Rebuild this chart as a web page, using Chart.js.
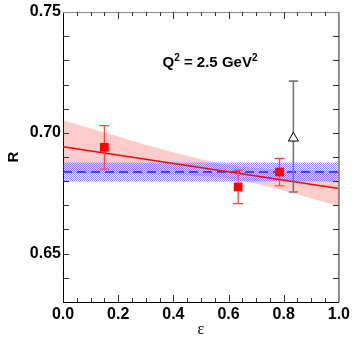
<!DOCTYPE html>
<html>
<head>
<meta charset="utf-8">
<script src="https://cdn.jsdelivr.net/npm/chart.js@4/dist/chart.umd.min.js"></script>
<style>
  html, body { margin: 0; padding: 0; background: #fff; }
</style>
</head>
<body>
<canvas id="chart" width="353" height="344"></canvas>
<script>
  // measured points (red squares)
  const epsPoints = [0.15, 0.635, 0.785];
  const rPoints = [0.694, 0.6776, 0.6838];
  const rLow = [0.685, 0.6707, 0.6781];
  const rHigh = [0.703, 0.6846, 0.6894];

  // open triangle point
  const epsTri = [0.835];
  const rTri = [0.6978];
  const rTriLow = [0.6755];
  const rTriHigh = [0.7214];

  // linear fit and its error band
  const fitEps = [0, 1];
  const fitR = [0.6942, 0.6770];
  const bandEps = [0, 0.1, 0.2, 0.3, 0.4, 0.5, 0.6, 0.7, 0.8, 0.9, 1.0];
  const bandUpper = [0.7052, 0.7018, 0.6985, 0.6951, 0.6920, 0.6891, 0.6868, 0.6855, 0.6848, 0.6846, 0.6844];
  const bandLower = [0.6832, 0.6832, 0.6831, 0.6829, 0.6826, 0.6821, 0.6810, 0.6789, 0.6760, 0.6729, 0.6696];

  // constant fit and its band
  const constEps = [0, 1];
  const constR = [0.6838, 0.6838];
  const constUpper = [0.6877, 0.6877];
  const constLower = [0.6799, 0.6799];

  // tick labels
  const xTickLabels = [0, 0.2, 0.4, 0.6, 0.8, 1.0];
  const yTickLabels = [0.65, 0.70, 0.75];

  const FONT = "'Liberation Sans', Arial, Helvetica, sans-serif";

  const pts = (xs, ys) => xs.map((x, i) => ({ x, y: ys[i] }));

  function makeHatch(ctx) {
    const c = document.createElement('canvas');
    c.width = 2;
    c.height = 2;
    const g = c.getContext('2d');
    g.fillStyle = 'rgba(70, 70, 255, 0.6)';
    g.fillRect(0, 0, 1, 1);
    g.fillRect(1, 1, 1, 1);
    return ctx.createPattern(c, 'repeat');
  }

  const errorInfo = {
    squares: { low: rLow, high: rHigh, color: '#ff4444', width: 1.2, cap: 5 },
    triangle: { low: rTriLow, high: rTriHigh, color: '#777777', width: 1.6, cap: 4.5 },
  };

  const errorBars = {
    id: 'errorBars',
    beforeDatasetDraw(chart, args) {
      const ds = chart.data.datasets[args.index];
      const info = errorInfo[ds.label];
      if (!info) return;
      const { ctx } = chart;
      const { x, y } = chart.scales;
      ctx.save();
      ctx.strokeStyle = info.color;
      ctx.lineWidth = info.width;
      ds.data.forEach((p, i) => {
        const px = x.getPixelForValue(p.x);
        const lo = y.getPixelForValue(info.low[i]);
        const hi = y.getPixelForValue(info.high[i]);
        ctx.beginPath();
        ctx.moveTo(px, lo);
        ctx.lineTo(px, hi);
        ctx.moveTo(px - info.cap, lo);
        ctx.lineTo(px + info.cap, lo);
        ctx.moveTo(px - info.cap, hi);
        ctx.lineTo(px + info.cap, hi);
        ctx.stroke();
      });
      ctx.restore();
    },
  };

  const frame = {
    id: 'frame',
    afterDatasetsDraw(chart) {
      const { ctx, chartArea: a } = chart;
      const { x, y } = chart.scales;
      ctx.save();
      // top and right border in gray
      ctx.strokeStyle = '#8a8a8a';
      ctx.lineWidth = 1;
      ctx.beginPath();
      ctx.moveTo(a.left, a.top + 0.5);
      ctx.lineTo(a.right, a.top + 0.5);
      ctx.stroke();
      ctx.lineWidth = 2;
      ctx.beginPath();
      ctx.moveTo(a.right, a.top);
      ctx.lineTo(a.right, a.bottom);
      ctx.stroke();

      ctx.strokeStyle = '#333';
      ctx.lineWidth = 1;
      ctx.beginPath();
      for (let i = 1; i < 20; i++) {
        const v = i * 0.05;
        const px = Math.round(x.getPixelForValue(v)) + 0.5;
        const major = i % 4 === 0;
        const len = major ? 7 : 4;
        ctx.moveTo(px, a.bottom);
        ctx.lineTo(px, a.bottom - len);
        ctx.moveTo(px, a.top);
        ctx.lineTo(px, a.top + len);
      }
      for (let i = 64; i < 75; i++) {
        const py = Math.round(y.getPixelForValue(i / 100)) + 0.5;
        ctx.moveTo(a.left, py);
        ctx.lineTo(a.left + 6, py);
        ctx.moveTo(a.right, py);
        ctx.lineTo(a.right - 6, py);
      }
      ctx.stroke();
      ctx.restore();
    },
  };

  const label = {
    id: 'label',
    afterDraw(chart) {
      const { ctx } = chart;
      const parts = [
        { t: 'Q', sup: false },
        { t: '2', sup: true },
        { t: ' = 2.5 GeV', sup: false },
        { t: '2', sup: true },
      ];
      const big = `bold 15px ${FONT}`;
      const small = `bold 10px ${FONT}`;
      ctx.save();
      ctx.fillStyle = '#000';
      ctx.textBaseline = 'alphabetic';
      let total = 0;
      parts.forEach((p) => {
        ctx.font = p.sup ? small : big;
        p.w = ctx.measureText(p.t).width;
        total += p.w;
      });
      let cx = 210 - total / 2;
      const base = 67;
      parts.forEach((p) => {
        ctx.font = p.sup ? small : big;
        ctx.fillText(p.t, cx, p.sup ? base - 6 : base);
        cx += p.w;
      });
      ctx.restore();
    },
  };

  const ctx = document.getElementById('chart').getContext('2d');
  const hatch = makeHatch(ctx);

  new Chart(ctx, {
    type: 'line',
    data: {
      datasets: [
        {
          label: 'triangle',
          data: pts(epsTri, rTri),
          showLine: false,
          pointStyle: 'triangle',
          pointRadius: 5.8,
          pointBackgroundColor: '#ffffff',
          pointBorderColor: '#000000',
          pointBorderWidth: 1,
          order: 0,
        },
        {
          label: 'squares',
          data: pts(epsPoints, rPoints),
          showLine: false,
          pointStyle: 'rect',
          pointRadius: 6.2,
          pointBackgroundColor: '#ff0000',
          pointBorderColor: '#ff0000',
          pointBorderWidth: 0,
          order: 1,
        },
        {
          label: 'fit',
          data: pts(fitEps, fitR),
          borderColor: '#ff0000',
          borderWidth: 1.5,
          pointRadius: 0,
          fill: false,
          order: 3,
        },
        {
          label: 'const',
          data: pts(constEps, constR),
          borderColor: '#3a1ccf',
          borderWidth: 1.6,
          borderDash: [9, 5],
          pointRadius: 0,
          fill: false,
          order: 4,
        },
        {
          label: 'constUpper',
          data: pts(constEps, constUpper),
          borderWidth: 0,
          pointRadius: 0,
          backgroundColor: hatch,
          fill: '+1',
          order: 5,
        },
        {
          label: 'constLower',
          data: pts(constEps, constLower),
          borderWidth: 0,
          pointRadius: 0,
          fill: false,
          order: 6,
        },
        {
          label: 'bandUpper',
          data: pts(bandEps, bandUpper),
          borderWidth: 0,
          pointRadius: 0,
          tension: 0.3,
          backgroundColor: 'rgba(255, 0, 0, 0.2)',
          fill: '+1',
          order: 7,
        },
        {
          label: 'bandLower',
          data: pts(bandEps, bandLower),
          borderWidth: 0,
          pointRadius: 0,
          tension: 0.3,
          fill: false,
          order: 8,
        },
      ],
    },
    options: {
      responsive: false,
      animation: false,
      events: [],
      layout: { padding: { top: 12, right: 13, left: 0, bottom: 0 } },
      plugins: {
        legend: { display: false },
        tooltip: { enabled: false },
      },
      scales: {
        x: {
          type: 'linear',
          min: 0,
          max: 1,
          afterBuildTicks(scale) {
            scale.ticks = xTickLabels.map((value) => ({ value }));
          },
          afterFit(scale) {
            scale.height = 42;
          },
          ticks: {
            color: '#000',
            font: { family: FONT, size: 16, weight: 'bold' },
            padding: 3,
            maxRotation: 0,
            autoSkip: false,
            callback: (v) => Number(v).toFixed(1),
          },
          grid: { display: false, drawTicks: false },
          border: { display: true, color: '#000', width: 1 },
          title: {
            display: true,
            text: 'ε',
            color: '#000',
            font: { family: "'Liberation Serif', 'Times New Roman', serif", size: 16 },
            padding: { top: 0, bottom: 5 },
          },
        },
        y: {
          min: 0.63,
          max: 0.75,
          afterBuildTicks(scale) {
            scale.ticks = yTickLabels.map((value) => ({ value }));
          },
          afterFit(scale) {
            scale.width = 63;
          },
          ticks: {
            color: '#000',
            font: { family: FONT, size: 16, weight: 'bold' },
            padding: 2,
            autoSkip: false,
            callback: (v) => Number(v).toFixed(2),
          },
          grid: { display: false, drawTicks: false },
          border: { display: true, color: '#000', width: 1 },
          title: {
            display: true,
            text: 'R',
            color: '#000',
            font: { family: FONT, size: 15, weight: 'bold' },
            padding: { top: 5, bottom: 0 },
          },
        },
      },
    },
    plugins: [errorBars, frame, label],
  });
</script>
</body>
</html>
